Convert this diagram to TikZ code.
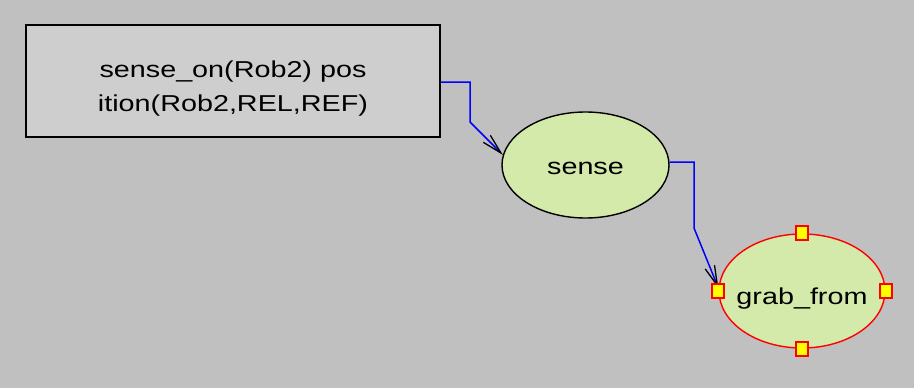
\documentclass[tikz,border=0pt]{standalone}
\usepackage{fontspec}
\setmainfont{Liberation Sans}
\usetikzlibrary{shapes.geometric,arrows.meta}
\definecolor{bg}{HTML}{C0C0C0}
\definecolor{boxfill}{HTML}{CECECE}
\definecolor{nodegreen}{HTML}{D4EAAA}
\definecolor{linkblue}{HTML}{0000FF}
\definecolor{handlered}{HTML}{FF0000}
\definecolor{handleyellow}{HTML}{FFFF00}
\newcommand{\wide}[1]{\scalebox{1.25}[1]{#1}}
\newcommand{\lbl}[1]{\makebox[0pt]{\wide{#1}}}
\tikzset{
  txt/.style={font=\fontsize{23}{34}\selectfont, text=black},
  predbox/.style={draw=black, line width=2.2pt, fill=boxfill, minimum width=414pt, minimum height=112pt, inner sep=0pt},
  actnode/.style={ellipse, draw=black, line width=1.4pt, fill=nodegreen, inner sep=0pt, txt},
  selnode/.style={ellipse, draw=handlered, line width=1.4pt, fill=nodegreen, inner sep=0pt, txt},
  handle/.style={draw=handlered, line width=1.8pt, fill=handleyellow, minimum width=12pt, minimum height=14pt, inner sep=0pt},
  link/.style={draw=linkblue, line width=1.5pt, -{Straight Barb[length=20pt,width=10pt,color=black,line width=1.3pt]}}
}
\begin{document}
\begin{tikzpicture}[x=1pt,y=-1pt]
\fill[bg] (0,0) rectangle (914,388);
\useasboundingbox (0,0) rectangle (914,388);
\node[predbox] (cond) at (233,81) {};
\node[txt, align=center, inner sep=0pt] (condtext) at (233,89) {\wide{sense\_on(Rob2) pos}\\\wide{ition(Rob2,REL,REF)}};
\node[actnode, minimum width=167pt, minimum height=106pt, text height=18pt, text depth=0pt] (sense) at (585.5,165) {\lbl{sense}};
\node[selnode, minimum width=166pt, minimum height=114pt, text height=26pt, text depth=0pt] (grab) at (802,291) {\lbl{grab\_from}};
\draw[link] (cond.east |- 0,82) -- (470,82) -- (470,122) -- (sense.173);
\draw[link] (sense.east |- 0,162) -- (694,162) -- (694,228) -- (grab.178);
\node[handle] (hN) at (grab.north) {};
\node[handle] (hS) at (grab.south) {};
\node[handle] (hE) at (grab.east) {};
\node[handle] (hW) at (grab.west) {};
\end{tikzpicture}
\end{document}
